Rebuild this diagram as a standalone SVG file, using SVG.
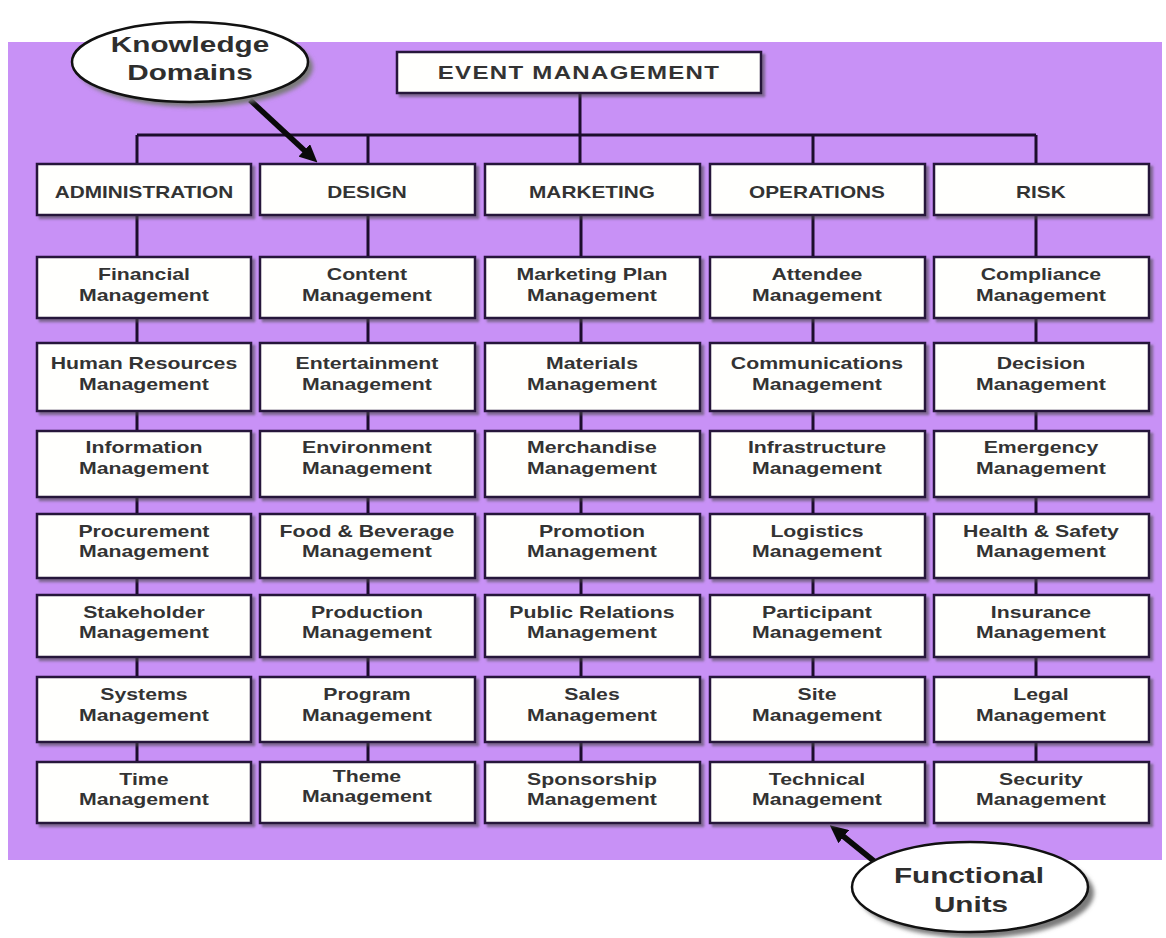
<svg xmlns="http://www.w3.org/2000/svg" width="1166" height="938" viewBox="0 0 1166 938">
  <style>
    .bg { fill: #c891f6; }
    .box { fill: #fffffd; stroke: #26173a; stroke-width: 2.5; filter: url(#boxShadow); }
    .wire { fill: none; stroke: #1c0d2c; stroke-width: 3; }
    .pointer { fill: none; stroke: #0a0a0a; stroke-width: 5.5; marker-end: url(#head); }
    .bubble { fill: #ffffff; stroke: #111111; stroke-width: 2.5; }
    .bubbleShade { fill: #7a7a7a; filter: url(#soft); }
    text { font-family: "Liberation Sans", Arial, sans-serif; font-weight: bold; fill: #333333; text-anchor: middle;
           transform-box: fill-box; transform-origin: center; }
    .t { font-size: 17px; transform: scaleX(1.25); }
    .h { font-size: 16px; transform: scaleX(1.3); }
    .title { font-size: 18.5px; letter-spacing: 1px; transform: scaleX(1.3); }
    .big { font-size: 22px; fill: #2e2e2e; transform: scaleX(1.35); }
  </style>
  <defs>
    <filter id="boxShadow" x="-5%" y="-10%" width="115%" height="130%">
      <feDropShadow dx="3" dy="3" stdDeviation="1.2" flood-color="#4a4a4a" flood-opacity="0.55"/>
    </filter>
    <filter id="soft" x="-10%" y="-10%" width="120%" height="120%">
      <feGaussianBlur stdDeviation="2"/>
    </filter>
    <marker id="head" viewBox="0 0 18 17" refX="1" refY="8.5" markerWidth="18" markerHeight="17" markerUnits="userSpaceOnUse" orient="auto">
      <path d="M0,0 L18,8.5 L0,17 z" fill="#0a0a0a"/>
    </marker>
  </defs>

  <!-- backdrop panel -->
  <rect class="bg" x="8" y="42" width="1154" height="818"/>

  <!-- connectors -->
  <g id="connectors">
    <path class="wire" d="M580,93 V164 M137,135 H1036"/>
    <!-- Administration column -->
    <path class="wire" d="M137,135 V164 M137,215 V257 M137,318 V343 M137,411 V431 M137,497 V514 M137,578 V595 M137,657 V677 M137,742 V762"/>
    <!-- Design column -->
    <path class="wire" d="M368,135 V164 M368,215 V257 M368,318 V343 M368,411 V431 M368,497 V514 M368,578 V595 M368,657 V677 M368,742 V762"/>
    <!-- Marketing column -->
    <path class="wire" d="M581,215 V257 M581,318 V343 M581,411 V431 M581,497 V514 M581,578 V595 M581,657 V677 M581,742 V762"/>
    <!-- Operations column -->
    <path class="wire" d="M813,135 V164 M813,215 V257 M813,318 V343 M813,411 V431 M813,497 V514 M813,578 V595 M813,657 V677 M813,742 V762"/>
    <!-- Risk column -->
    <path class="wire" d="M1036,135 V164 M1036,215 V257 M1036,318 V343 M1036,411 V431 M1036,497 V514 M1036,578 V595 M1036,657 V677 M1036,742 V762"/>
    <!-- callout pointers -->
    <line class="pointer" x1="250" y1="100" x2="305" y2="151"/>
    <line class="pointer" x1="880" y1="866" x2="843" y2="836"/>
  </g>

  <!-- root -->
  <g id="event-management">
    <rect class="box" x="397" y="52" width="364" height="41"/>
    <text class="title" x="579" y="79">EVENT MANAGEMENT</text>
  </g>

  <!-- knowledge domains -->
  <g id="administration"><rect class="box" x="37" y="164" width="214" height="51"/><text class="h" x="144" y="198">ADMINISTRATION</text></g>
  <g id="design"><rect class="box" x="260" y="164" width="215" height="51"/><text class="h" x="367" y="198">DESIGN</text></g>
  <g id="marketing"><rect class="box" x="485" y="164" width="215" height="51"/><text class="h" x="592" y="198">MARKETING</text></g>
  <g id="operations"><rect class="box" x="710" y="164" width="215" height="51"/><text class="h" x="817" y="198">OPERATIONS</text></g>
  <g id="risk"><rect class="box" x="934" y="164" width="215" height="51"/><text class="h" x="1041" y="198">RISK</text></g>

  <!-- functional units: Administration -->
  <g id="financial"><rect class="box" x="37" y="257" width="214" height="61"/><text class="t" x="144" y="280">Financial</text><text class="t" x="144" y="301">Management</text></g>
  <g id="human-resources"><rect class="box" x="37" y="343" width="214" height="68"/><text class="t" x="144" y="369">Human Resources</text><text class="t" x="144" y="390">Management</text></g>
  <g id="information"><rect class="box" x="37" y="431" width="214" height="66"/><text class="t" x="144" y="453">Information</text><text class="t" x="144" y="474">Management</text></g>
  <g id="procurement"><rect class="box" x="37" y="514" width="214" height="64"/><text class="t" x="144" y="537">Procurement</text><text class="t" x="144" y="557">Management</text></g>
  <g id="stakeholder"><rect class="box" x="37" y="595" width="214" height="62"/><text class="t" x="144" y="618">Stakeholder</text><text class="t" x="144" y="638">Management</text></g>
  <g id="systems"><rect class="box" x="37" y="677" width="214" height="65"/><text class="t" x="144" y="700">Systems</text><text class="t" x="144" y="721">Management</text></g>
  <g id="time"><rect class="box" x="37" y="762" width="214" height="61"/><text class="t" x="144" y="785">Time</text><text class="t" x="144" y="805">Management</text></g>

  <!-- functional units: Design -->
  <g id="content"><rect class="box" x="260" y="257" width="215" height="61"/><text class="t" x="367" y="280">Content</text><text class="t" x="367" y="301">Management</text></g>
  <g id="entertainment"><rect class="box" x="260" y="343" width="215" height="68"/><text class="t" x="367" y="369">Entertainment</text><text class="t" x="367" y="390">Management</text></g>
  <g id="environment"><rect class="box" x="260" y="431" width="215" height="66"/><text class="t" x="367" y="453">Environment</text><text class="t" x="367" y="474">Management</text></g>
  <g id="food-beverage"><rect class="box" x="260" y="514" width="215" height="64"/><text class="t" x="367" y="537">Food &amp; Beverage</text><text class="t" x="367" y="557">Management</text></g>
  <g id="production"><rect class="box" x="260" y="595" width="215" height="62"/><text class="t" x="367" y="618">Production</text><text class="t" x="367" y="638">Management</text></g>
  <g id="program"><rect class="box" x="260" y="677" width="215" height="65"/><text class="t" x="367" y="700">Program</text><text class="t" x="367" y="721">Management</text></g>
  <g id="theme"><rect class="box" x="260" y="762" width="215" height="61"/><text class="t" x="367" y="782">Theme</text><text class="t" x="367" y="802">Management</text></g>

  <!-- functional units: Marketing -->
  <g id="marketing-plan"><rect class="box" x="485" y="257" width="215" height="61"/><text class="t" x="592" y="280">Marketing Plan</text><text class="t" x="592" y="301">Management</text></g>
  <g id="materials"><rect class="box" x="485" y="343" width="215" height="68"/><text class="t" x="592" y="369">Materials</text><text class="t" x="592" y="390">Management</text></g>
  <g id="merchandise"><rect class="box" x="485" y="431" width="215" height="66"/><text class="t" x="592" y="453">Merchandise</text><text class="t" x="592" y="474">Management</text></g>
  <g id="promotion"><rect class="box" x="485" y="514" width="215" height="64"/><text class="t" x="592" y="537">Promotion</text><text class="t" x="592" y="557">Management</text></g>
  <g id="public-relations"><rect class="box" x="485" y="595" width="215" height="62"/><text class="t" x="592" y="618">Public Relations</text><text class="t" x="592" y="638">Management</text></g>
  <g id="sales"><rect class="box" x="485" y="677" width="215" height="65"/><text class="t" x="592" y="700">Sales</text><text class="t" x="592" y="721">Management</text></g>
  <g id="sponsorship"><rect class="box" x="485" y="762" width="215" height="61"/><text class="t" x="592" y="785">Sponsorship</text><text class="t" x="592" y="805">Management</text></g>

  <!-- functional units: Operations -->
  <g id="attendee"><rect class="box" x="710" y="257" width="215" height="61"/><text class="t" x="817" y="280">Attendee</text><text class="t" x="817" y="301">Management</text></g>
  <g id="communications"><rect class="box" x="710" y="343" width="215" height="68"/><text class="t" x="817" y="369">Communications</text><text class="t" x="817" y="390">Management</text></g>
  <g id="infrastructure"><rect class="box" x="710" y="431" width="215" height="66"/><text class="t" x="817" y="453">Infrastructure</text><text class="t" x="817" y="474">Management</text></g>
  <g id="logistics"><rect class="box" x="710" y="514" width="215" height="64"/><text class="t" x="817" y="537">Logistics</text><text class="t" x="817" y="557">Management</text></g>
  <g id="participant"><rect class="box" x="710" y="595" width="215" height="62"/><text class="t" x="817" y="618">Participant</text><text class="t" x="817" y="638">Management</text></g>
  <g id="site"><rect class="box" x="710" y="677" width="215" height="65"/><text class="t" x="817" y="700">Site</text><text class="t" x="817" y="721">Management</text></g>
  <g id="technical"><rect class="box" x="710" y="762" width="215" height="61"/><text class="t" x="817" y="785">Technical</text><text class="t" x="817" y="805">Management</text></g>

  <!-- functional units: Risk -->
  <g id="compliance"><rect class="box" x="934" y="257" width="215" height="61"/><text class="t" x="1041" y="280">Compliance</text><text class="t" x="1041" y="301">Management</text></g>
  <g id="decision"><rect class="box" x="934" y="343" width="215" height="68"/><text class="t" x="1041" y="369">Decision</text><text class="t" x="1041" y="390">Management</text></g>
  <g id="emergency"><rect class="box" x="934" y="431" width="215" height="66"/><text class="t" x="1041" y="453">Emergency</text><text class="t" x="1041" y="474">Management</text></g>
  <g id="health-safety"><rect class="box" x="934" y="514" width="215" height="64"/><text class="t" x="1041" y="537">Health &amp; Safety</text><text class="t" x="1041" y="557">Management</text></g>
  <g id="insurance"><rect class="box" x="934" y="595" width="215" height="62"/><text class="t" x="1041" y="618">Insurance</text><text class="t" x="1041" y="638">Management</text></g>
  <g id="legal"><rect class="box" x="934" y="677" width="215" height="65"/><text class="t" x="1041" y="700">Legal</text><text class="t" x="1041" y="721">Management</text></g>
  <g id="security"><rect class="box" x="934" y="762" width="215" height="61"/><text class="t" x="1041" y="785">Security</text><text class="t" x="1041" y="805">Management</text></g>

  <!-- callout bubbles -->
  <g id="knowledge-domains-callout">
    <ellipse class="bubbleShade" cx="195" cy="67" rx="118" ry="40"/>
    <ellipse class="bubble" cx="190" cy="62" rx="118" ry="40"/>
    <text class="big" x="190" y="52">Knowledge</text>
    <text class="big" x="190" y="80">Domains</text>
  </g>
  <g id="functional-units-callout">
    <ellipse class="bubbleShade" cx="976" cy="893" rx="118" ry="45"/>
    <ellipse class="bubble" cx="970" cy="887" rx="118" ry="45"/>
    <text class="big" x="969" y="883">Functional</text>
    <text class="big" x="971" y="912">Units</text>
  </g>
</svg>
